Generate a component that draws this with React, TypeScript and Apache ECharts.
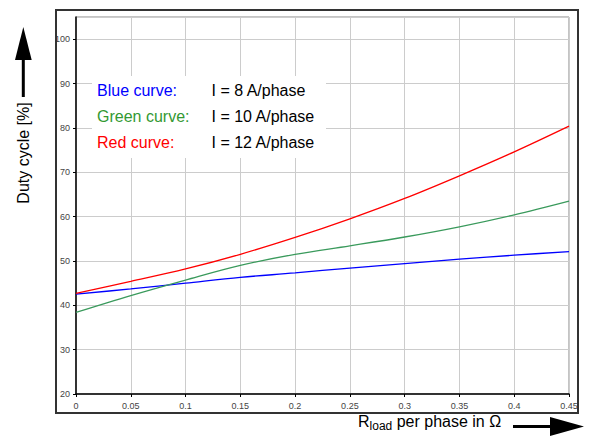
import React, { useEffect, useRef } from "react";
import * as echarts from "echarts";

const rLoad = [0, 0.05, 0.1, 0.15, 0.2, 0.25, 0.3, 0.35, 0.4, 0.45];
const blueI8 = [42.5, 43.7, 45.0, 46.3, 47.3, 48.4, 49.4, 50.4, 51.3, 52.1];
const greenI10 = [38.4, 42.2, 45.7, 49.0, 51.5, 53.4, 55.4, 57.7, 60.4, 63.5];
const redI12 = [42.7, 45.4, 48.2, 51.5, 55.3, 59.5, 64.1, 69.2, 74.6, 80.4];

const FONT = "Liberation Sans, Arial, sans-serif";

function pairs(ys: number[]) {
  return rLoad.map((x, i) => [x, ys[i]]);
}

export default function App() {
  const ref = useRef<HTMLDivElement>(null);
  useEffect(() => {
    if (!ref.current) return;
    const chart = echarts.init(ref.current, null, { renderer: "svg" });
    const legendRows = [
      { label: "Blue curve:", value: "I = 8 A/phase", color: "#0000ff", y: 90 },
      { label: "Green curve:", value: "I = 10 A/phase", color: "#339933", y: 116 },
      { label: "Red curve:", value: "I = 12 A/phase", color: "#ff0000", y: 142 },
    ];
    const graphics: any[] = [
      {
        type: "rect",
        shape: { x: 56, y: 10, width: 522, height: 403 },
        style: { fill: "none", stroke: "#333", lineWidth: 2 },
        z: 10,
      },
      {
        type: "rect",
        shape: { x: 92, y: 76, width: 234, height: 82 },
        style: { fill: "#fff" },
        z: 5,
      },
      // Y arrow
      {
        type: "line",
        shape: { x1: 23.3, y1: 97, x2: 23.3, y2: 58 },
        style: { stroke: "#000", lineWidth: 3 },
        z: 10,
      },
      {
        type: "polygon",
        shape: { points: [[23.3, 27], [15, 60], [31.7, 60]] },
        style: { fill: "#000" },
        z: 10,
      },
      // X arrow
      {
        type: "line",
        shape: { x1: 513, y1: 426.5, x2: 552, y2: 426.5 },
        style: { stroke: "#000", lineWidth: 3 },
        z: 10,
      },
      {
        type: "polygon",
        shape: { points: [[584, 426.5], [550, 417], [550, 436]] },
        style: { fill: "#000" },
        z: 10,
      },
      // Y title
      {
        type: "text",
        x: 23,
        y: 153,
        rotation: Math.PI / 2,
        style: {
          text: "Duty cycle [%]",
          fontSize: 16,
          fontFamily: FONT,
          fill: "#000",
          align: "center",
          verticalAlign: "middle",
        },
        z: 10,
      },
      // X title
      {
        type: "text",
        x: 358,
        y: 421,
        style: {
          text: "{a|R}{s|load}{a| per phase in Ω}",
          fontFamily: FONT,
          fill: "#000",
          align: "left",
          verticalAlign: "middle",
          rich: {
            a: { fontSize: 16, fontFamily: FONT, fill: "#000" },
            s: { fontSize: 12, fontFamily: FONT, fill: "#000", padding: [10, 0, 0, 0] },
          },
        },
        z: 10,
      },
    ];
    legendRows.forEach((r) => {
      graphics.push({
        type: "text",
        x: 97,
        y: r.y,
        style: {
          text: r.label,
          fontSize: 16,
          fontFamily: FONT,
          fill: r.color,
          verticalAlign: "middle",
        },
        z: 6,
      });
      graphics.push({
        type: "text",
        x: 211.5,
        y: r.y,
        style: {
          text: r.value,
          fontSize: 16,
          fontFamily: FONT,
          fill: "#000",
          verticalAlign: "middle",
        },
        z: 6,
      });
    });

    const lineSeries = (name: string, ys: number[], color: string) => ({
      name,
      type: "line",
      data: pairs(ys),
      smooth: 0.35,
      showSymbol: false,
      symbol: "none",
      lineStyle: { color, width: 1.3 },
      z: 3,
    });

    chart.setOption({
      animation: false,
      backgroundColor: "#fff",
      grid: {
        left: 76,
        top: 17,
        right: 24,
        bottom: 43,
        show: true,
        borderColor: "#888",
        borderWidth: 1,
        backgroundColor: "transparent",
      },
      xAxis: {
        type: "value",
        min: 0,
        max: 0.45,
        interval: 0.05,
        axisLine: { show: true, onZero: false, lineStyle: { color: "#000", width: 1.5 } },
        axisTick: { show: true, length: 3, lineStyle: { color: "#000" } },
        axisLabel: {
          fontSize: 9,
          fontFamily: FONT,
          color: "#444",
          margin: 7,
          formatter: (v: number) => String(Math.round(v * 100) / 100),
        },
        splitLine: { show: true, lineStyle: { color: "#cccccc", width: 1 } },
      },
      yAxis: {
        type: "value",
        min: 20,
        max: 105,
        interval: 10,
        axisLine: { show: true, onZero: false, lineStyle: { color: "#000", width: 1.5 } },
        axisTick: { show: true, length: 3, lineStyle: { color: "#000" } },
        axisLabel: {
          fontSize: 9,
          fontFamily: FONT,
          color: "#444",
          margin: 6,
          showMaxLabel: false,
          formatter: (v: number) => (v > 100 ? "" : String(v)),
        },
        splitLine: { show: true, lineStyle: { color: "#cccccc", width: 1 } },
      },
      series: [
        lineSeries("Blue curve", blueI8, "#0000ff"),
        lineSeries("Green curve", greenI10, "#3a9a5c"),
        lineSeries("Red curve", redI12, "#ff0000"),
      ],
      graphic: graphics,
    });
    return () => chart.dispose();
  }, []);
  return (
    <div
      ref={ref}
      style={{ position: "fixed", left: 0, top: 0, width: 593, height: 437 }}
    />
  );
}
